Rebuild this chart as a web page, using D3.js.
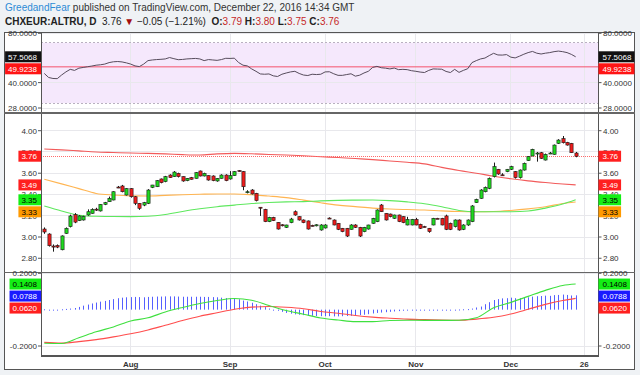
<!DOCTYPE html>
<html>
<head>
<meta charset="utf-8">
<script src="https://d3js.org/d3.v7.min.js"></script>
<style>
  body { margin: 0; background: #eff2f5; }
  svg text { font-family: "Liberation Sans", Arial, sans-serif; }
</style>
</head>
<body>
<svg id="chart" width="640" height="375"></svg>
<script>
// ---------- data ----------
var firstDay = "2016-07-04";   // first daily bar
var futureBars = 2;            // empty bars right of the last candle (Dec 23, Dec 26)

var open = [3.075,3.028,2.915,2.92,2.88,3.034,3.097,3.21,3.154,3.16,
  3.207,3.223,3.262,3.245,3.307,3.332,3.348,3.47,3.48,3.395,
  3.455,3.379,3.317,3.30,3.317,3.467,3.473,3.546,3.521,3.583,
  3.568,3.599,3.568,3.53,3.558,3.552,3.621,3.574,3.577,3.574,
  3.527,3.552,3.583,3.546,3.577,3.625,3.615,3.42,3.442,3.411,
  3.28,3.26,3.144,3.185,3.138,3.115,3.091,3.135,3.238,3.191,
  3.16,3.151,3.11,3.105,3.066,3.085,3.178,3.16,3.129,3.082,
  3.082,3.072,3.113,3.091,3.05,3.075,3.129,3.144,3.301,3.223,
  3.216,3.176,3.207,3.191,3.113,3.113,3.166,3.119,3.098,3.082,
  3.113,3.176,3.176,3.198,3.129,3.097,3.16,3.072,3.113,3.144,
  3.323,3.364,3.426,3.458,3.568,3.637,3.585,3.615,3.637,3.615,
  3.558,3.63,3.718,3.762,3.787,3.793,3.724,3.785,3.778,3.881,
  3.925,3.89,3.881,3.79];
var high = [3.09,3.035,2.93,2.93,3.015,3.09,3.21,3.225,3.205,3.20,
  3.26,3.27,3.275,3.31,3.33,3.38,3.43,3.48,3.49,3.46,
  3.46,3.385,3.32,3.33,3.45,3.49,3.535,3.55,3.575,3.59,
  3.62,3.605,3.57,3.555,3.565,3.61,3.625,3.605,3.58,3.58,
  3.555,3.59,3.59,3.62,3.62,3.63,3.62,3.44,3.45,3.415,
  3.28,3.265,3.19,3.19,3.14,3.12,3.115,3.18,3.25,3.195,
  3.165,3.155,3.115,3.12,3.12,3.12,3.185,3.165,3.13,3.085,
  3.085,3.12,3.12,3.095,3.095,3.115,3.18,3.26,3.31,3.225,
  3.22,3.21,3.21,3.195,3.19,3.17,3.18,3.125,3.105,3.085,
  3.18,3.18,3.18,3.21,3.135,3.165,3.165,3.12,3.165,3.30,
  3.36,3.45,3.475,3.56,3.70,3.64,3.60,3.64,3.67,3.62,
  3.635,3.70,3.76,3.83,3.80,3.80,3.785,3.80,3.87,3.92,
  3.95,3.895,3.885,3.80];
var low = [3.03,2.91,2.862,2.895,2.875,3.03,3.09,3.13,3.15,3.155,
  3.20,3.22,3.245,3.24,3.30,3.33,3.345,3.46,3.42,3.39,
  3.37,3.30,3.255,3.29,3.31,3.46,3.47,3.505,3.515,3.555,
  3.565,3.56,3.52,3.525,3.54,3.55,3.57,3.57,3.53,3.525,
  3.52,3.55,3.525,3.54,3.575,3.615,3.44,3.41,3.40,3.335,
  3.198,3.14,3.14,3.15,3.07,3.10,3.085,3.13,3.20,3.155,
  3.13,3.07,3.10,3.10,3.06,3.08,3.17,3.11,3.065,3.045,
  3.00,3.07,3.085,3.00,3.045,3.07,3.125,3.14,3.235,3.155,
  3.185,3.17,3.14,3.13,3.11,3.11,3.11,3.075,3.09,3.04,
  3.11,3.17,3.11,3.065,3.065,3.09,3.06,3.065,3.105,3.14,
  3.32,3.36,3.42,3.45,3.56,3.585,3.575,3.61,3.63,3.55,
  3.55,3.625,3.715,3.76,3.709,3.735,3.72,3.78,3.775,3.875,
  3.88,3.86,3.79,3.75];
var close = [3.047,2.918,2.905,2.905,3.01,3.082,3.198,3.14,3.198,3.195,
  3.238,3.26,3.258,3.307,3.323,3.364,3.426,3.465,3.426,3.455,
  3.379,3.317,3.27,3.323,3.442,3.489,3.53,3.511,3.568,3.558,
  3.611,3.568,3.527,3.552,3.543,3.605,3.574,3.599,3.536,3.53,
  3.552,3.583,3.53,3.577,3.615,3.62,3.473,3.426,3.405,3.342,
  3.276,3.144,3.185,3.154,3.075,3.11,3.113,3.169,3.207,3.16,
  3.135,3.075,3.105,3.115,3.113,3.113,3.174,3.113,3.072,3.05,
  3.009,3.113,3.091,3.009,3.091,3.113,3.176,3.254,3.238,3.16,
  3.191,3.207,3.144,3.135,3.166,3.166,3.113,3.082,3.096,3.05,
  3.176,3.172,3.113,3.072,3.072,3.16,3.066,3.113,3.16,3.292,
  3.354,3.442,3.467,3.552,3.662,3.593,3.581,3.637,3.662,3.558,
  3.63,3.693,3.756,3.825,3.79,3.74,3.778,3.79,3.865,3.912,
  3.887,3.865,3.793,3.76];

var rsi = [45.5,43,42.4,42.3,44.5,46.5,48.2,47.5,49.0,49.5,
  50.0,50.5,51.1,51.4,51.9,53.0,53.6,53.8,53.5,52.8,
  51.9,50.6,50.1,51.9,54.5,55.0,55.3,55.5,55.8,56.9,
  56.0,55.2,55.4,55.8,56.0,56.2,55.8,54.5,55.3,55.0,
  54.7,55.3,56.3,56.2,56.4,53.0,51.1,50.6,48.5,46.9,
  45.2,45.0,45.2,44.0,43.6,45.0,45.8,46.5,46.9,45.5,
  44.5,44.2,45.0,44.8,45.0,46.5,46.6,45.3,44.3,44.3,
  44.8,45.3,43.8,44.4,45.8,46.9,49.5,50.3,49.3,49.0,
  48.5,49.1,48.0,48.2,48.0,47.3,46.9,46.4,46.1,47.5,
  48.5,48.4,48.3,46.8,46.1,48.2,46.2,47.5,48.6,53.0,
  54.5,55.8,56.5,58.5,60.4,59.0,58.9,59.3,57.2,56.6,
  58.0,59.6,61.0,62.0,60.5,59.8,60.5,61.0,61.8,62.3,
  61.8,61.0,59.5,57.5068];
var rsiLevel = 49.9238;
var rsiBands = [70, 30];

var macdHist = [0.002,0.0,-0.002,-0.001,0.002,0.004,0.006,0.009,0.015,0.022,
  0.028,0.034,0.039,0.044,0.048,0.053,0.058,0.063,0.066,0.068,
  0.069,0.070,0.069,0.068,0.070,0.071,0.072,0.072,0.073,0.073,
  0.073,0.072,0.071,0.071,0.071,0.071,0.071,0.070,0.070,0.069,
  0.068,0.066,0.064,0.062,0.060,0.057,0.050,0.045,0.038,0.030,
  0.022,0.014,0.006,0.0,-0.006,-0.012,-0.018,-0.022,-0.026,-0.028,
  -0.030,-0.032,-0.034,-0.035,-0.036,-0.036,-0.036,-0.037,-0.037,-0.036,
  -0.035,-0.034,-0.032,-0.030,-0.028,-0.025,-0.021,-0.018,-0.016,-0.014,
  -0.012,-0.010,-0.008,-0.006,-0.005,-0.004,-0.004,-0.003,-0.003,-0.002,
  -0.002,-0.002,-0.001,-0.001,0.0,0.0,0.001,0.002,0.003,0.006,
  0.012,0.017,0.030,0.041,0.053,0.058,0.062,0.063,0.066,0.063,
  0.063,0.066,0.068,0.072,0.074,0.075,0.077,0.076,0.080,0.081,
  0.083,0.081,0.078,0.0788];

// smooth lines, sampled every few bars
var lineIdx = [0,4,8,12,16,20,24,28,32,36,40,44,48,52,56,60,64,68,72,76,80,84,88,92,96,100,104,108,112,116,120,123];
var maRed = [3.828,3.82,3.81,3.80,3.795,3.79,3.787,3.782,3.775,3.771,3.782,3.787,3.783,3.776,3.771,3.764,
  3.755,3.748,3.738,3.728,3.715,3.703,3.688,3.655,3.625,3.60,3.572,3.548,3.528,3.512,3.498,3.49];
var maOrange = [3.543,3.50,3.455,3.41,3.395,3.387,3.386,3.392,3.398,3.402,3.405,3.405,3.398,3.385,3.37,3.347,
  3.322,3.30,3.286,3.272,3.263,3.258,3.254,3.246,3.24,3.238,3.24,3.25,3.265,3.285,3.315,3.33];
var maGreen = [3.292,3.245,3.205,3.195,3.193,3.192,3.195,3.212,3.24,3.265,3.285,3.30,3.315,3.324,3.33,3.333,
  3.34,3.345,3.347,3.348,3.342,3.33,3.313,3.285,3.25,3.237,3.237,3.238,3.245,3.272,3.31,3.35];
var macdLine = [-0.185,-0.186,-0.155,-0.122,-0.095,-0.062,-0.045,-0.013,0.012,0.034,0.050,0.061,0.052,0.023,-0.005,-0.025,
  -0.046,-0.057,-0.066,-0.066,-0.060,-0.058,-0.059,-0.059,-0.058,-0.045,0.010,0.040,0.073,0.106,0.133,0.1408];
var signalLine = [-0.180,-0.184,-0.176,-0.165,-0.150,-0.133,-0.112,-0.086,-0.060,-0.036,-0.017,0.002,0.014,0.017,0.013,0.005,
  -0.010,-0.020,-0.032,-0.041,-0.047,-0.052,-0.055,-0.057,-0.058,-0.052,-0.042,-0.024,0.002,0.029,0.050,0.062];

var rsiTicks = [80, 40, 28];
var priceTicks = [4.0, 3.8, 3.6, 3.4, 3.2, 3.0, 2.8];
var macdTicks = [0.2, -0.2];
var monthTicks = ["2016-08-01","2016-09-01","2016-10-03","2016-11-01","2016-12-01","2016-12-26"];
var monthLabels = ["Aug","Sep","Oct","Nov","Dec","26"];

// ---------- layout ----------
var frame = {l: 4, r: 635, t: 32, b: 370};
var plotL = 41, plotR = 598.5;
var rsiPane = [32, 113], pricePane = [113, 272.5], macdPane = [272.5, 356];
var last = close.length - 1;

// trading days (weekdays only)
var days = [];
var dt = new Date(firstDay + "T00:00:00Z");
while (days.length < close.length + futureBars) {
  var wd = dt.getUTCDay();
  if (wd !== 0 && wd !== 6) days.push(dt.toISOString().slice(0, 10));
  dt.setUTCDate(dt.getUTCDate() + 1);
}

var x = d3.scaleLinear().domain([0, days.length - 1]).range([44.3, 584.3]);
var yRsi = d3.scaleLog().domain([28, 80]).range([108, 33.3]);
var yPrice = d3.scaleLinear().domain([3.0, 4.0]).range([237, 130.7]);
var yMacd = d3.scaleLinear().domain([-0.2, 0.2]).range([346, 273.3]);

var svg = d3.select("#chart");
svg.append("rect").attr("width", 640).attr("height", 375).attr("fill", "#eff2f5");

// ---------- header ----------
var h1 = svg.append("text").attr("x", 5).attr("y", 11).style("font-size", "10px").attr("fill", "#333");
h1.append("tspan").attr("fill", "#2d8bd6").text("GreedandFear");
h1.append("tspan").text(" published on TradingView.com, December 22, 2016 14:34 GMT");

var f2 = d3.format(".2f");
var parts = [
  ["CHXEUR:ALTRU, D", "bold", "#222"], ["  " + f2(close[last]) + " ", "normal", "#222"],
  ["\u25BC", "normal", "#a30d0d"], [" \u22120.05 (\u22121.21%)  ", "normal", "#222"],
  ["O:", "bold", "#222"], [f2(open[last]), "normal", "#c62828"],
  [" H:", "bold", "#222"], [f2(high[last]), "normal", "#c62828"],
  [" L:", "bold", "#222"], [f2(low[last]), "normal", "#c62828"],
  [" C:", "bold", "#222"], [f2(close[last]), "normal", "#c62828"]
];
var h2 = svg.append("text").attr("x", 5).attr("y", 24.5).style("font-size", "10px").attr("xml:space", "preserve");
parts.forEach(function(p) {
  h2.append("tspan").attr("font-weight", p[1]).attr("fill", p[2]).text(p[0]);
});

// ---------- chart background ----------
svg.append("rect").attr("x", frame.l).attr("y", frame.t)
  .attr("width", frame.r - frame.l).attr("height", frame.b - frame.t).attr("fill", "#fff");

// RSI band fill
svg.append("rect").attr("x", plotL).attr("y", yRsi(rsiBands[0]))
  .attr("width", plotR - plotL).attr("height", yRsi(rsiBands[1]) - yRsi(rsiBands[0]))
  .attr("fill", "#f5e8fc");

var grid = svg.append("g").attr("stroke", "#e8e8ec").attr("shape-rendering", "crispEdges");
monthTicks.forEach(function(d) {
  var i = days.indexOf(d);
  grid.append("line").attr("x1", x(i)).attr("x2", x(i)).attr("y1", frame.t).attr("y2", macdPane[1]);
});
function hGrid(vals, sc) {
  vals.forEach(function(v) {
    grid.append("line").attr("x1", plotL).attr("x2", plotR).attr("y1", sc(v)).attr("y2", sc(v));
  });
}
hGrid(rsiTicks, yRsi); hGrid(priceTicks, yPrice); hGrid(macdTicks, yMacd);

// ---------- RSI pane ----------
var gR = svg.append("g");
rsiBands.forEach(function(v) {
  gR.append("line").attr("x1", plotL).attr("x2", plotR).attr("y1", yRsi(v)).attr("y2", yRsi(v))
    .attr("stroke", "#b9b0c0").attr("stroke-dasharray", "2,2").attr("shape-rendering", "crispEdges");
});
gR.append("line").attr("x1", plotL).attr("x2", plotR).attr("y1", yRsi(rsiLevel)).attr("y2", yRsi(rsiLevel))
  .attr("stroke", "#f4516c").attr("stroke-width", 1);
gR.append("path").datum(rsi)
  .attr("d", d3.line().x(function(d, i) { return x(i); }).y(function(d) { return yRsi(d); }))
  .attr("fill", "none").attr("stroke", "#574c5c").attr("stroke-width", 1);

// ---------- price pane ----------
svg.append("clipPath").attr("id", "priceClip").append("rect")
  .attr("x", plotL).attr("y", pricePane[0]).attr("width", plotR - plotL).attr("height", pricePane[1] - pricePane[0]);
var gP = svg.append("g").attr("clip-path", "url(#priceClip)");

function maPath(vals, sc, color) {
  return d3.line().x(function(d, i) { return x(lineIdx[i]); }).y(function(d) { return sc(d); })
    .curve(d3.curveMonotoneX)(vals);
}
gP.append("path").attr("d", maPath(maRed, yPrice)).attr("fill", "none").attr("stroke", "#f25b5b").attr("stroke-width", 1.1);
gP.append("path").attr("d", maPath(maOrange, yPrice)).attr("fill", "none").attr("stroke", "#ffb552").attr("stroke-width", 1.1);
gP.append("path").attr("d", maPath(maGreen, yPrice)).attr("fill", "none").attr("stroke", "#5ee85e").attr("stroke-width", 1.1);

gP.append("line").attr("x1", plotL).attr("x2", plotR)
  .attr("y1", Math.round(yPrice(close[last])) + 0.5).attr("y2", Math.round(yPrice(close[last])) + 0.5)
  .attr("stroke", "#ff6b6b").attr("stroke-dasharray", "1,1");

var candles = gP.selectAll("g.c").data(close).enter().append("g").attr("class", "c");
candles.append("line")
  .attr("x1", function(d, i) { return Math.round(x(i)) + 0.5; })
  .attr("x2", function(d, i) { return Math.round(x(i)) + 0.5; })
  .attr("y1", function(d, i) { return yPrice(high[i]); })
  .attr("y2", function(d, i) { return yPrice(low[i]); })
  .attr("stroke", "#1a1a1a");
candles.append("rect")
  .attr("x", function(d, i) { return Math.round(x(i)) + 0.5 - 1.6; })
  .attr("width", 3.2)
  .attr("y", function(d, i) { return yPrice(Math.max(open[i], close[i])); })
  .attr("height", function(d, i) { return Math.max(1, Math.abs(yPrice(open[i]) - yPrice(close[i]))); })
  .attr("fill", function(d, i) { return close[i] >= open[i] ? "#1fd81f" : "#ee1c1c"; })
  .attr("stroke", "#1a1a1a").attr("stroke-width", 0.6);

// ---------- MACD pane ----------
var gM = svg.append("g");
gM.selectAll("rect.h").data(macdHist).enter().append("rect").attr("class", "h")
  .attr("x", function(d, i) { return Math.round(x(i)); })
  .attr("width", 1)
  .attr("y", function(d) { return Math.min(yMacd(d), yMacd(0)); })
  .attr("height", function(d) { return Math.max(1, Math.abs(yMacd(d) - yMacd(0))); })
  .attr("fill", "#5560ff");
gM.append("path").attr("d", maPath(signalLine, yMacd)).attr("fill", "none").attr("stroke", "#ff4d4d").attr("stroke-width", 1.1);
gM.append("path").attr("d", maPath(macdLine, yMacd)).attr("fill", "none").attr("stroke", "#3fe03f").attr("stroke-width", 1.1);

// ---------- frame ----------
var fr = svg.append("g").attr("stroke", "#555").attr("fill", "none").attr("shape-rendering", "crispEdges");
fr.append("rect").attr("x", frame.l + 0.5).attr("y", frame.t + 0.5)
  .attr("width", frame.r - frame.l - 1).attr("height", frame.b - frame.t - 1);
[plotL, plotR].forEach(function(px) {
  fr.append("line").attr("x1", px).attr("x2", px).attr("y1", frame.t).attr("y2", macdPane[1]);
});
[rsiPane[1], pricePane[1]].forEach(function(py) {
  fr.append("line").attr("x1", frame.l).attr("x2", frame.r).attr("y1", py).attr("y2", py).attr("stroke-width", 1.6).attr("stroke", "#666");
});
fr.append("line").attr("x1", plotL).attr("x2", plotR).attr("y1", macdPane[1]).attr("y2", macdPane[1]).attr("stroke-width", 1.4);

// ---------- axes ----------
var ax = svg.append("g").style("font-size", "8px").attr("fill", "#333");
function ticks(vals, sc, fmt) {
  vals.forEach(function(v) {
    var yy = sc(v);
    ax.append("text").attr("x", 37).attr("y", yy + 3).attr("text-anchor", "end").text(fmt(v));
    ax.append("text").attr("x", 603).attr("y", yy + 3).text(fmt(v));
    ax.append("line").attr("x1", 38).attr("x2", plotL).attr("y1", yy).attr("y2", yy).attr("stroke", "#555");
    ax.append("line").attr("x1", plotR).attr("x2", plotR + 3).attr("y1", yy).attr("y2", yy).attr("stroke", "#555");
  });
}
ticks(rsiTicks, yRsi, d3.format(".4f"));
ticks(priceTicks, yPrice, d3.format(".2f"));
ticks(macdTicks, yMacd, function(v) { return d3.format(".4f")(v).replace("\u2212", "-"); });

// value boxes, stacked so they do not overlap
function boxes(items, sc) {
  var prev = -1e9;
  items.forEach(function(it) {
    var yy = Math.max(sc(it.v), prev + 12);
    prev = yy;
    [0, 1].forEach(function(side) {
      var g = svg.append("g");
      var t = g.append("text").style("font-size", "8px").attr("fill", it.fg).attr("y", yy + 3).text(it.label);
      var w = t.node().getComputedTextLength();
      if (side === 0) {
        t.attr("x", 37).attr("text-anchor", "end");
        g.insert("rect", "text").attr("x", Math.max(frame.l, 37 - w - 3)).attr("y", yy - 5.5)
          .attr("width", plotL - Math.max(frame.l, 37 - w - 3)).attr("height", 11).attr("fill", it.bg);
      } else {
        t.attr("x", 602.5);
        g.insert("rect", "text").attr("x", plotR).attr("y", yy - 5.5)
          .attr("width", w + 7).attr("height", 11).attr("fill", it.bg);
      }
    });
  });
}
var f4 = d3.format(".4f");
boxes([
  {v: rsi[last], label: f4(rsi[last]), bg: "#111", fg: "#fff"},
  {v: rsiLevel, label: f4(rsiLevel), bg: "#ff1414", fg: "#fff"}
], yRsi);
boxes([
  {v: close[last], label: f2(close[last]), bg: "#ff1f1f", fg: "#fff"},
  {v: maRed[maRed.length - 1], label: f2(maRed[maRed.length - 1]), bg: "#ff1f1f", fg: "#fff"},
  {v: maGreen[maGreen.length - 1], label: f2(maGreen[maGreen.length - 1]), bg: "#14ee14", fg: "#000"},
  {v: maOrange[maOrange.length - 1], label: f2(maOrange[maOrange.length - 1]), bg: "#ff9a00", fg: "#000"}
], yPrice);
boxes([
  {v: macdLine[macdLine.length - 1], label: f4(macdLine[macdLine.length - 1]), bg: "#14ee14", fg: "#000"},
  {v: macdHist[last], label: f4(macdHist[last]), bg: "#1a1aff", fg: "#fff"},
  {v: signalLine[signalLine.length - 1], label: f4(signalLine[signalLine.length - 1]), bg: "#ff1f1f", fg: "#fff"}
], yMacd);

// x axis labels
monthTicks.forEach(function(d, k) {
  var i = days.indexOf(d);
  ax.append("text").attr("x", x(i)).attr("y", 366.5).attr("text-anchor", "middle")
    .attr("font-weight", "bold").attr("fill", "#333").text(monthLabels[k]);
});
</script>
</body>
</html>
